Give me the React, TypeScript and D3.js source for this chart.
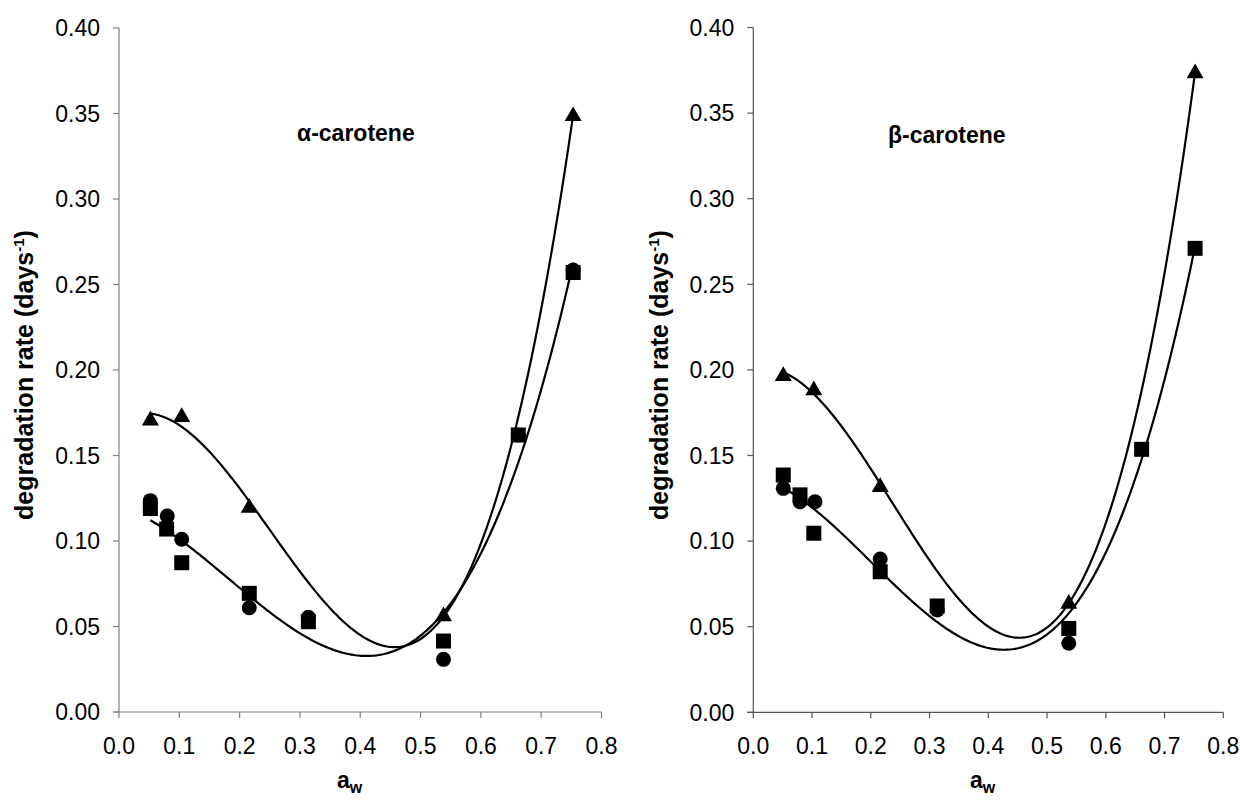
import React from 'react';
import * as d3 from 'd3';

// ---------- data ----------
const alphaTriX = [0.052, 0.104, 0.216, 0.538, 0.753];
const alphaTriY = [0.171, 0.173, 0.120, 0.0565, 0.349];
const alphaSqX = [0.052, 0.079, 0.104, 0.216, 0.314, 0.538, 0.662, 0.753];
const alphaSqY = [0.119, 0.107, 0.0873, 0.0694, 0.0528, 0.0415, 0.162, 0.257];
const alphaCircX = [0.052, 0.080, 0.104, 0.216, 0.314, 0.538, 0.662, 0.753];
const alphaCircY = [0.1236, 0.1146, 0.101, 0.061, 0.0554, 0.0308, 0.162, 0.2585];

const betaTriX = [0.051, 0.103, 0.216, 0.537, 0.752];
const betaTriY = [0.197, 0.1887, 0.1322, 0.064, 0.3738];
const betaSqX = [0.051, 0.0795, 0.103, 0.216, 0.313, 0.537, 0.661, 0.752];
const betaSqY = [0.1386, 0.127, 0.1046, 0.0821, 0.0621, 0.049, 0.1536, 0.271];
const betaCircX = [0.051, 0.0795, 0.105, 0.216, 0.313, 0.537];
const betaCircY = [0.1308, 0.123, 0.123, 0.0895, 0.0598, 0.0403];

const xTicks = [0, 0.1, 0.2, 0.3, 0.4, 0.5, 0.6, 0.7, 0.8];
const yTicks = [0, 0.05, 0.1, 0.15, 0.2, 0.25, 0.3, 0.35, 0.4];

// cubic least-squares trendline (as a spreadsheet polynomial trendline)
function cubicFit(xs: number[], ys: number[]) {
  const n = 4;
  const A: number[][] = Array.from({ length: n }, () => new Array(n + 1).fill(0));
  xs.forEach((x, k) => {
    for (let i = 0; i < n; i++) {
      for (let j = 0; j < n; j++) A[i][j] += Math.pow(x, i + j);
      A[i][n] += ys[k] * Math.pow(x, i);
    }
  });
  for (let c = 0; c < n; c++) {
    let p = c;
    for (let r = c + 1; r < n; r++) if (Math.abs(A[r][c]) > Math.abs(A[p][c])) p = r;
    [A[c], A[p]] = [A[p], A[c]];
    for (let r = 0; r < n; r++) {
      if (r === c) continue;
      const f = A[r][c] / A[c][c];
      for (let k = c; k <= n; k++) A[r][k] -= f * A[c][k];
    }
  }
  const coef = A.map((row, i) => row[n] / row[i]);
  return (x: number) => coef[0] + coef[1] * x + coef[2] * x * x + coef[3] * x * x * x;
}

const FONT = '"Liberation Sans", Arial, sans-serif';

type PanelProps = {
  x0: number; x1: number; y0: number; y1: number;
  axisColor: string;
  title: string; titleX: number; titleY: number;
  yTitleX: number; xTitleX: number;
  triX: number[]; triY: number[];
  sqX: number[]; sqY: number[];
  circX: number[]; circY: number[];
};

function Panel(p: PanelProps) {
  const x = d3.scaleLinear().domain([0, 0.8]).range([p.x0, p.x1]);
  const y = d3.scaleLinear().domain([0, 0.4]).range([p.y0, p.y1]);

  const fitPath = (xs: number[], ys: number[]) => {
    const f = cubicFit(xs, ys);
    const lo = d3.min(xs)!, hi = d3.max(xs)!;
    const pts = d3.range(0, 201).map((i) => {
      const v = lo + ((hi - lo) * i) / 200;
      return [v, f(v)];
    });
    return d3.line<number[]>().x((d) => x(d[0])).y((d) => y(d[1]))(pts) || '';
  };

  const tri = d3.symbol().type(d3.symbolTriangle).size(125)() || '';
  const sq = 15;
  const cr = 7.5;

  return (
    <g>
      {/* axes */}
      <line x1={p.x0} x2={p.x0} y1={p.y0} y2={p.y1} stroke={p.axisColor} strokeWidth={1.2} />
      <line x1={p.x0 - 6} x2={p.x1} y1={p.y0} y2={p.y0} stroke={p.axisColor} strokeWidth={1.2} />
      {yTicks.map((t) => (
        <g key={'y' + t}>
          <line x1={p.x0 - 6} x2={p.x0} y1={y(t)} y2={y(t)} stroke={p.axisColor} strokeWidth={1.2} />
          <text x={p.x0 - 19} y={y(t)} dy="0.36em" textAnchor="end" fontSize={23} fontFamily={FONT} fill="#000">
            {d3.format('.2f')(t)}
          </text>
        </g>
      ))}
      {xTicks.map((t) => (
        <g key={'x' + t}>
          <line x1={x(t)} x2={x(t)} y1={p.y0} y2={p.y0 + 6} stroke={p.axisColor} strokeWidth={1.2} />
          <text x={x(t)} y={746} dy="0.36em" textAnchor="middle" fontSize={23} fontFamily={FONT} fill="#000">
            {d3.format('.1f')(t)}
          </text>
        </g>
      ))}

      {/* trendlines */}
      <path d={fitPath(p.triX, p.triY)} fill="none" stroke="#000" strokeWidth={2.2} />
      <path d={fitPath(p.sqX, p.sqY)} fill="none" stroke="#000" strokeWidth={2.2} />

      {/* markers */}
      {p.circX.map((v, i) => (
        <circle key={'c' + i} cx={x(v)} cy={y(p.circY[i])} r={cr} fill="#000" />
      ))}
      {p.sqX.map((v, i) => (
        <rect key={'s' + i} x={x(v) - sq / 2} y={y(p.sqY[i]) - sq / 2} width={sq} height={sq} fill="#000" />
      ))}
      {p.triX.map((v, i) => (
        <path key={'t' + i} d={tri} transform={`translate(${x(v)},${y(p.triY[i]) + 1})`} fill="#000" />
      ))}

      {/* titles */}
      <text x={p.titleX} y={p.titleY} fontSize={23} fontWeight="bold" fontFamily={FONT} fill="#000">
        {p.title}
      </text>
      <text
        transform={`translate(${p.yTitleX},375) rotate(-90)`}
        textAnchor="middle"
        fontSize={25}
        fontWeight="bold"
        fontFamily={FONT}
        fill="#000"
      >
        degradation rate (days<tspan dy={-9} fontSize={15}>-1</tspan>
        <tspan dy={9}>)</tspan>
      </text>
      <text x={p.xTitleX} y={788} fontSize={23} fontWeight="bold" fontFamily={FONT} fill="#000">
        a<tspan dy={5} fontSize={16}>w</tspan>
      </text>
    </g>
  );
}

export default function App() {
  return (
    <svg
      width={1240}
      height={801}
      style={{ position: 'absolute', left: 0, top: 0, background: '#fff' }}
    >
      <rect x={0} y={0} width={1240} height={801} fill="#fff" />
      <Panel
        x0={119} x1={601.5} y0={712} y1={28}
        axisColor="#808080"
        title="α-carotene" titleX={297} titleY={141}
        yTitleX={33} xTitleX={337}
        triX={alphaTriX} triY={alphaTriY}
        sqX={alphaSqX} sqY={alphaSqY}
        circX={alphaCircX} circY={alphaCircY}
      />
      <Panel
        x0={753.3} x1={1223.3} y0={712.3} y1={27.5}
        axisColor="#555"
        title="β-carotene" titleX={888} titleY={143}
        yTitleX={668} xTitleX={970}
        triX={betaTriX} triY={betaTriY}
        sqX={betaSqX} sqY={betaSqY}
        circX={betaCircX} circY={betaCircY}
      />
    </svg>
  );
}
